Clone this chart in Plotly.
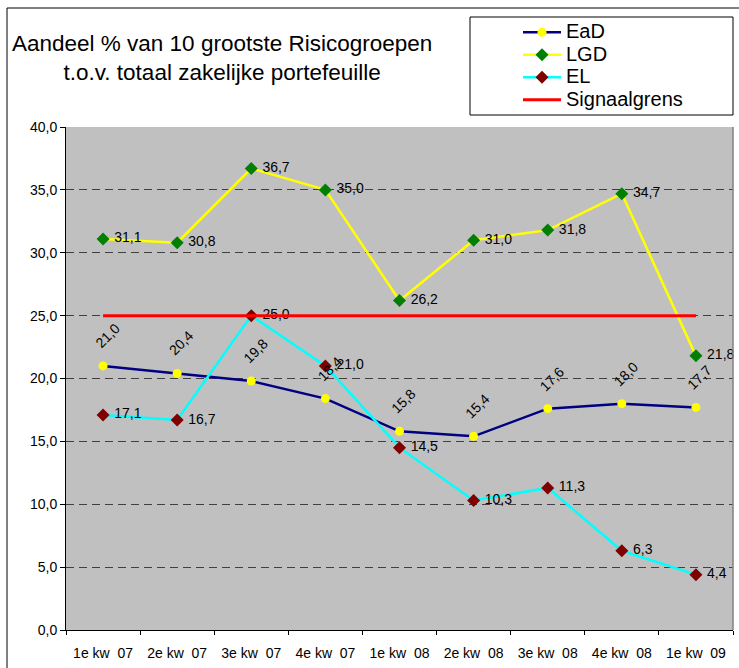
import plotly.graph_objects as go

categories = ["1e kw\u00a0 07", "2e kw\u00a0 07", "3e kw\u00a0 07", "4e kw\u00a0 07",
              "1e kw\u00a0 08", "2e kw\u00a0 08", "3e kw\u00a0 08", "4e kw\u00a0 08", "1e kw\u00a0 09"]
ead = [21.0, 20.4, 19.8, 18.4, 15.8, 15.4, 17.6, 18.0, 17.7]
lgd = [31.1, 30.8, 36.7, 35.0, 26.2, 31.0, 31.8, 34.7, 21.8]
el = [17.1, 16.7, 25.0, 21.0, 14.5, 10.3, 11.3, 6.3, 4.4]
signaalgrens = [25.0] * 9
y_ticks = [0, 5, 10, 15, 20, 25, 30, 35, 40]
series_names = ["EaD", "LGD", "EL", "Signaalgrens"]

W, H = 739, 668
L, R, T, B = 66, 733, 127, 630


def px(x):
    return (x - L) / (R - L)


def py(y):
    return (B - y) / (B - T)


def fmt(v):
    return f"{v:.1f}".replace(".", ",")


def lname(s):
    return f"<span style='font-size:20px'>{s}</span>"


FONT = "Liberation Sans, Arial, sans-serif"

fig = go.Figure()
fig.add_trace(go.Scatter(
    x=categories, y=ead, name=lname(series_names[0]), mode="lines+markers",
    line=dict(color="#000080", width=2.5),
    marker=dict(color="#FFFF00", size=9, symbol="circle"),
    cliponaxis=False))
fig.add_trace(go.Scatter(
    x=categories, y=lgd, name=lname(series_names[1]), mode="lines+markers+text",
    text=["\u00a0" + fmt(v) for v in lgd], textposition="middle right",
    textfont=dict(size=14, color="black", family=FONT),
    line=dict(color="#FFFF00", width=2.5),
    marker=dict(color="#008000", size=10, symbol="diamond"),
    cliponaxis=False))
fig.add_trace(go.Scatter(
    x=categories, y=el, name=lname(series_names[2]), mode="lines+markers+text",
    text=["\u00a0" + fmt(v) for v in el], textposition="middle right",
    textfont=dict(size=14, color="black", family=FONT),
    line=dict(color="#00FFFF", width=2.5),
    marker=dict(color="#800000", size=10, symbol="diamond"),
    cliponaxis=False))
fig.add_trace(go.Scatter(
    x=categories, y=signaalgrens, name=lname(series_names[3]), mode="lines",
    line=dict(color="#FF0000", width=3)))

annotations = []
for c, v in zip(categories, ead):
    annotations.append(dict(
        x=c, y=v, xref="x", yref="y", text=fmt(v), showarrow=False,
        textangle=-45, xshift=4, yshift=30,
        font=dict(size=14, color="black", family=FONT)))

annotations.append(dict(
    x=px(222), y=py(58), xref="paper", yref="paper",
    text="Aandeel % van 10 grootste Risicogroepen<br>t.o.v. totaal zakelijke portefeuille",
    showarrow=False, xanchor="center", yanchor="middle", align="center",
    font=dict(size=22.5, color="black", family=FONT)))

shapes = [
    dict(type="rect", xref="paper", yref="paper",
         x0=px(7), x1=px(800), y0=py(8), y1=py(720),
         line=dict(color="black", width=1), fillcolor="rgba(0,0,0,0)", layer="below"),
    dict(type="rect", xref="paper", yref="paper",
         x0=px(470), x1=px(733), y0=py(17), y1=py(115),
         line=dict(color="black", width=1), fillcolor="white"),
    dict(type="line", xref="paper", yref="paper",
         x0=1, x1=1, y0=0, y1=1, line=dict(color="#808080", width=1.5)),
]

fig.update_layout(
    width=W, height=H,
    margin=dict(l=L, r=W - R, t=T, b=H - B),
    paper_bgcolor="white", plot_bgcolor="#C0C0C0",
    separators=",.",
    font=dict(family=FONT, size=14, color="black"),
    showlegend=True,
    legend=dict(x=px(518), y=py(16), xanchor="left", yanchor="top",
                bgcolor="rgba(0,0,0,0)", borderwidth=0,
                font=dict(size=15, family=FONT, color="black"),
                itemwidth=38, tracegroupgap=0),
    annotations=annotations,
    shapes=shapes,
    xaxis=dict(type="category", range=[-0.5, 8.5], tickson="boundaries",
               ticks="outside", ticklen=4, tickcolor="black",
               ticklabelstandoff=10,
               showline=True, linecolor="black", linewidth=1,
               showgrid=False, tickfont=dict(size=14, family=FONT)),
    yaxis=dict(range=[0, 40], tickvals=y_ticks, tickformat=".1f",
               ticks="outside", ticklen=5, tickcolor="black",
               showline=True, linecolor="black", linewidth=1,
               showgrid=True, gridcolor="#404040", gridwidth=1, griddash="8px,5px",
               zeroline=False, tickfont=dict(size=14, family=FONT)),
)

fig.write_html("out.html", post_script="document.body.style.margin='0';",
               config={"displayModeBar": False})
